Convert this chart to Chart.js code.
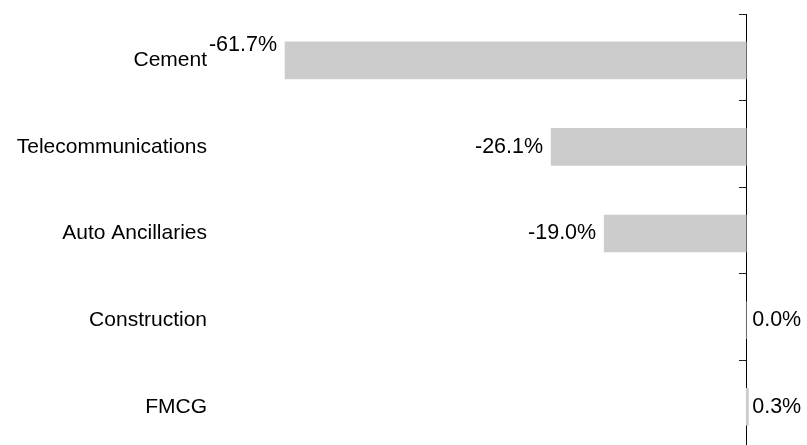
<!DOCTYPE html>
<html>
<head>
<meta charset="utf-8">
<script src="https://cdn.jsdelivr.net/npm/chart.js@4"></script>
<style>
  html, body { margin: 0; padding: 0; background: #fff; overflow: hidden; }
  #wrap { width: 807px; height: 448px; }
</style>
</head>
<body>
<div id="wrap"><canvas id="sector-chart"></canvas></div>
<script>
const sectors = ['Cement', 'Telecommunications', 'Auto Ancillaries', 'Construction', 'FMCG'];
const changes = [-61.7, -26.1, -19.0, 0.0, 0.3];

const FONT = '"Liberation Sans", Arial, sans-serif';

// bars sit slightly below the middle of each band
const BAND_SHIFT = 0.035;

function formatPct(v) {
  return `${v.toFixed(1)}%`;
}

// value labels: negatives sit left of the bar end, others right of the zero line
const valueLabels = {
  id: 'valueLabels',
  afterDatasetsDraw(chart) {
    const ctx = chart.ctx;
    const meta = chart.getDatasetMeta(0);
    const zero = chart.scales.x.getPixelForValue(0);
    ctx.save();
    ctx.font = `21.5px ${FONT}`;
    ctx.fillStyle = '#000';
    ctx.textBaseline = 'middle';
    meta.data.forEach((bar, i) => {
      const v = changes[i];
      const text = formatPct(v);
      let y = bar.y;
      if (v < 0) {
        const x = bar.x - 8;
        // push the label up when it would run into the category name
        if (x - ctx.measureText(text).width < chart.chartArea.left) y -= 15;
        ctx.textAlign = 'right';
        ctx.fillText(text, x, y);
      } else {
        ctx.textAlign = 'left';
        ctx.fillText(text, zero + 6, y);
      }
    });
    ctx.restore();
  }
};

// no label overflow padding on the vertical axes
function noPad(scale) {
  scale.paddingTop = 0;
  scale.paddingBottom = 0;
}

const bandLo = -0.5 - BAND_SHIFT;
const bandHi = sectors.length - 0.5 - BAND_SHIFT;

new Chart(document.getElementById('sector-chart'), {
  type: 'bar',
  data: {
    datasets: [{
      data: changes.map((v, i) => ({ x: v, y: i })),
      backgroundColor: '#cccccc',
      borderWidth: 0,
      barThickness: 37,
      clip: false
    }]
  },
  options: {
    indexAxis: 'y',
    responsive: true,
    maintainAspectRatio: false,
    animation: false,
    layout: { padding: { top: 14, right: 1, bottom: 1, left: 0 } },
    plugins: {
      legend: { display: false },
      tooltip: { enabled: false }
    },
    scales: {
      x: {
        type: 'linear',
        min: -70,
        max: 8,
        display: false
      },
      y: {
        type: 'linear',
        reverse: true,
        offset: false,
        bounds: 'data',
        min: bandLo,
        max: bandHi,
        position: 'left',
        grid: { display: false, drawTicks: false, offset: false },
        border: { display: false },
        afterFit: scale => {
          scale.width = 223;
          noPad(scale);
        },
        afterBuildTicks: scale => {
          scale.ticks = sectors.map((_, i) => ({ value: i }));
          scale.min = bandLo;
          scale.max = bandHi;
        },
        ticks: {
          autoSkip: false,
          padding: 16,
          color: '#000',
          font: { family: FONT, size: 21 },
          callback: v => sectors[v] || ''
        }
      },
      axis0: {
        type: 'linear',
        axis: 'y',
        reverse: true,
        offset: false,
        bounds: 'data',
        min: -0.5,
        max: sectors.length - 0.5,
        position: { x: 0 },
        grid: { drawOnChartArea: false, offset: false, tickLength: 7, color: '#222', lineWidth: 1 },
        border: { display: true, color: '#000', width: 1 },
        afterFit: noPad,
        afterBuildTicks: scale => {
          scale.ticks = sectors.map((_, i) => ({ value: i - 0.5 }))
            .concat({ value: sectors.length - 0.5 });
          scale.min = -0.5;
          scale.max = sectors.length - 0.5;
        },
        ticks: { display: false, autoSkip: false }
      }
    }
  },
  plugins: [valueLabels]
});
</script>
</body>
</html>
